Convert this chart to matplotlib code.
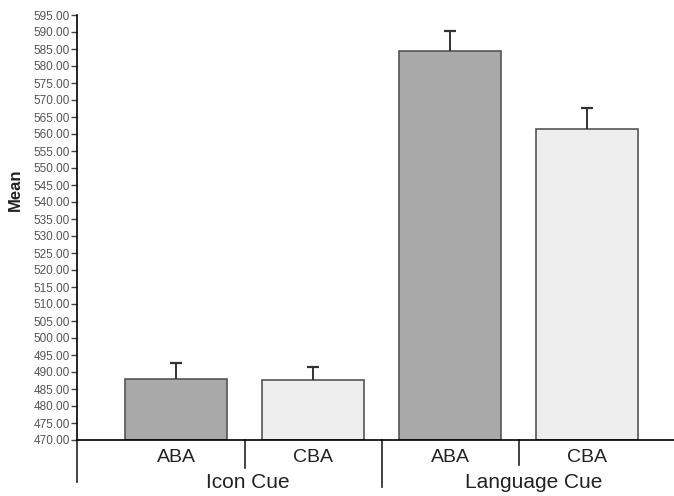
import matplotlib
matplotlib.use("Agg")
import matplotlib.pyplot as plt
import numpy as np

# data
conditions = ['ABA', 'CBA', 'ABA', 'CBA']
groups = ['Icon Cue', 'Language Cue']
means = [487.9, 487.6, 584.5, 561.5]
errors = [4.7, 4.0, 5.8, 6.1]
bar_colors = ['#a9a9a9', '#eeeeee', '#a9a9a9', '#eeeeee']
yticks = list(range(470, 600, 5))

plt.rcParams['font.family'] = ['Liberation Sans', 'DejaVu Sans']

fig = plt.figure(figsize=(6.74, 4.96), dpi=100)
ax = fig.add_axes([77 / 674, 1 - 440 / 496, 1 - 77 / 674, 425 / 496])

x = np.arange(len(conditions))
ax.bar(x, [m - 470 for m in means], bottom=470, width=0.75,
       color=bar_colors, edgecolor='#555555', linewidth=1.2, zorder=2)
# upper error bars only
tops = [m + e for m, e in zip(means, errors)]
ax.vlines(x, means, tops, color='#333333', lw=1.4, zorder=3)
ax.plot(x, tops, ls='none', marker='_', ms=8, mew=1.6, color='#333333', zorder=3)

ax.set_ylim(470, 595)
ax.set_xlim(-0.723, 3.635)
ax.set_yticks(yticks)
ax.set_yticklabels([f'{v:.2f}' for v in yticks], fontsize=8.5, color='#555555')
ax.tick_params(axis='y', length=4, width=1, color='#444444', pad=1)
ax.set_xticks([])
for s in ['top', 'right']:
    ax.spines[s].set_visible(False)
ax.spines['left'].set_linewidth(1.2)
ax.spines['bottom'].set_linewidth(1.2)

# category separators under the axis
tr = ax.get_xaxis_transform()
ax.plot([-0.723, -0.723], [0, -0.099], transform=tr, color='#222222', lw=1.2, clip_on=False)
ax.plot([0.5, 0.5], [0, -0.066], transform=tr, color='#222222', lw=1.2, clip_on=False)
ax.plot([1.5, 1.5], [0, -0.111], transform=tr, color='#222222', lw=1.2, clip_on=False)
ax.plot([2.5, 2.5], [0, -0.059], transform=tr, color='#222222', lw=1.2, clip_on=False)

for xi, lab in zip(x, conditions):
    ax.text(xi, -0.042, lab, transform=tr, ha='center', va='center', fontsize=14, color='#222222')
ax.text(0.526, -0.099, groups[0], transform=tr, ha='center', va='center', fontsize=15, color='#222222')
ax.text(2.61, -0.099, groups[1], transform=tr, ha='center', va='center', fontsize=15, color='#222222')

fig.text(15 / 674, 1 - 190 / 496, 'Mean', rotation=90, ha='center', va='center',
         fontsize=12, fontweight='bold', color='#222222')

fig.savefig('out.png', dpi=100)
